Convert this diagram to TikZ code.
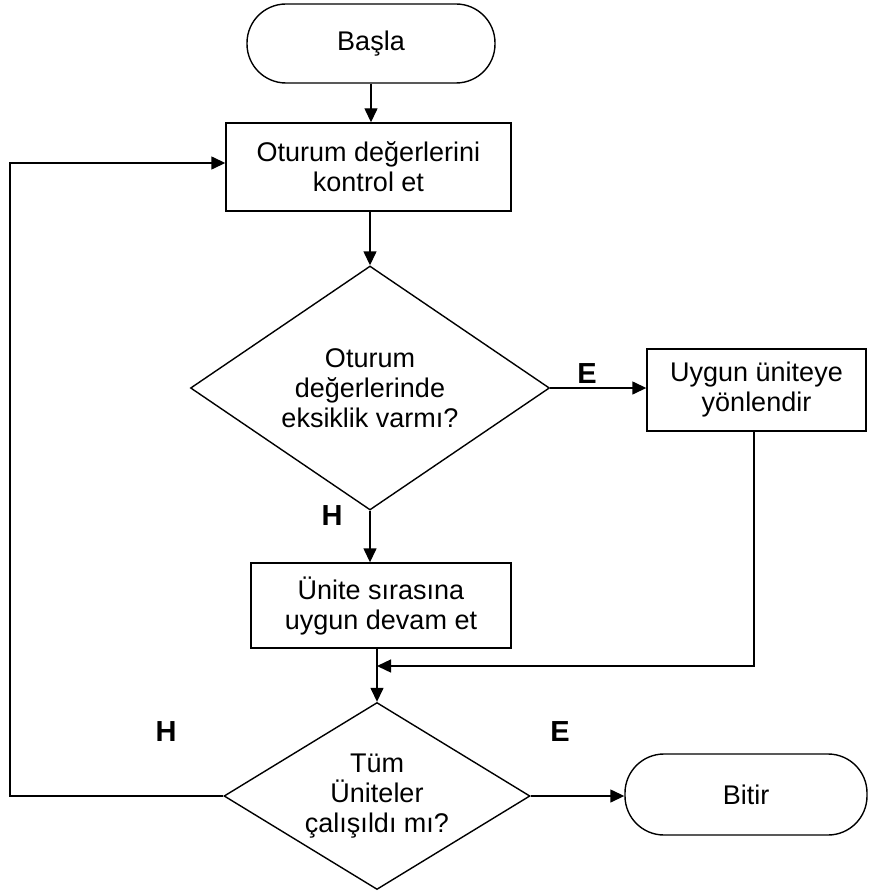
\documentclass[tikz,border=0pt]{standalone}
\usepackage{fontspec}
\setmainfont{Liberation Sans}
\usepackage{tikz}
\usetikzlibrary{shapes,arrows.meta,calc}

\tikzset{
  terminal/.style={draw, line width=1.4pt, rectangle, rounded corners=39pt, align=center, font=\fontsize{27}{30}\selectfont},
  process/.style={draw, line width=1.4pt, rectangle, align=center, font=\fontsize{27}{30}\selectfont},
  decision/.style={draw, line width=1.4pt, diamond, inner sep=0pt, align=center, font=\fontsize{27}{30}\selectfont},
  flow/.style={line width=1.4pt, -{Triangle[length=14pt,width=13pt]}},
  answer/.style={font=\fontsize{29}{30}\selectfont\bfseries}
}

\begin{document}
\begin{tikzpicture}[x=1pt,y=-1pt]
	\useasboundingbox (0,0) rectangle (868,893);
	% nodes
	\node[terminal, minimum width=248pt, minimum height=79pt] (start) at (371,43.5) {Başla};
	\node[process, minimum width=285pt, minimum height=88pt] (check) at (368.5,167) {Oturum değerlerini\\kontrol et};
	\node[decision, minimum width=359pt, minimum height=244pt, shape aspect=1.47] (missing) at (370,388) {Oturum\\değerlerinde\\eksiklik varmı?};
	\node[process, minimum width=219pt, minimum height=82pt] (redirect) at (756.5,390) {Uygun üniteye\\yönlendir};
	\node[process, minimum width=260pt, minimum height=85pt] (continue) at (381,605.5) {Ünite sırasına\\uygun devam et};
	\node[decision, minimum width=306pt, minimum height=187pt, shape aspect=1.64] (done) at (377,796) {Tüm\\Üniteler\\çalışıldı mı?};
	\node[terminal, minimum width=242pt, minimum height=81pt] (finish) at (746,794.5) {Bitir};
	\coordinate (join) at (377,666);
	\coordinate (back) at (10,163);
	% connectors
	\draw[flow] (start.south) -- (start.south |- check.north);
	\draw[flow] (check.south -| missing.north) -- (missing.north);
	\draw[flow] (missing.east) -- (missing.east -| redirect.west);
	\draw[flow] (missing.south) -- (missing.south |- continue.north);
	\draw[flow] (done.north |- continue.south) -- (done.north);
	\draw[flow] (redirect.south -| 754,0) |- (join);
	\draw[flow] (done.west) -| (back) -- (back -| check.west);
	\draw[flow] (done.east) -- (done.east -| finish.west);
	% labels
	\node[answer] (yes1) at (587,374) {E};
	\node[answer] (no1) at (332,516) {H};
	\node[answer] (no2) at (166,732) {H};
	\node[answer] (yes2) at (560,732) {E};
\end{tikzpicture}
\end{document}
